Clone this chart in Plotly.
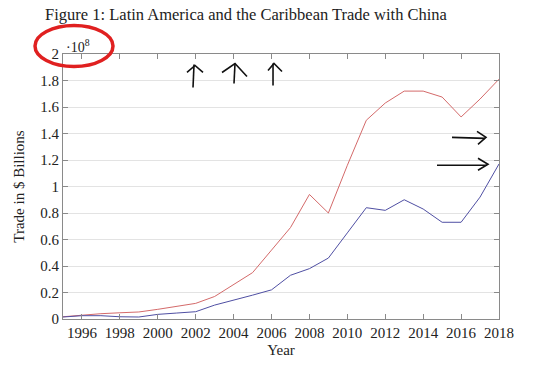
import plotly.graph_objects as go

# Data (values in units of 10^8)
years = list(range(1995, 2019))
red_series = [0.017, 0.03, 0.04, 0.047, 0.053, 0.073, 0.093, 0.118, 0.17, 0.26, 0.35, 0.52,
              0.69, 0.94, 0.80, 1.16, 1.50, 1.63, 1.72, 1.72, 1.675, 1.525, 1.66, 1.81]
blue_series = [0.015, 0.025, 0.025, 0.017, 0.015, 0.035, 0.045, 0.055, 0.105, 0.14, 0.18, 0.22,
               0.33, 0.38, 0.46, 0.65, 0.84, 0.82, 0.90, 0.83, 0.73, 0.73, 0.92, 1.17]
y_tickvals = [0, 0.2, 0.4, 0.6, 0.8, 1, 1.2, 1.4, 1.6, 1.8, 2]
y_ticktext = ["0", "0.2", "0.4", "0.6", "0.8", "1", "1.2", "1.4", "1.6", "1.8", "2"]
x_tickvals = list(range(1996, 2019, 2))
x_ticktext = [str(v) for v in x_tickvals]

W, H = 540, 368
L, R, T, B = 63, 499, 53.5, 319
FONT = "Liberation Serif"

fig = go.Figure()
fig.add_trace(go.Scatter(x=years, y=red_series, mode="lines",
                         line=dict(color="#d46a6a", width=1), showlegend=False))
fig.add_trace(go.Scatter(x=years, y=blue_series, mode="lines",
                         line=dict(color="#4f4fa3", width=1), showlegend=False))


def px(x, y):
    return ((x - L) / (R - L), (B - y) / (B - T))


def path(points):
    s = ""
    for i, (x, y) in enumerate(points):
        a, b = px(x, y)
        s += ("M" if i == 0 else "L") + f"{a:.4f},{b:.4f} "
    return s.strip()


shapes = []
# hand-drawn annotations
ink = dict(color="#111111", width=1.6)
for stem, head in [
    ([(193, 87), (194, 64)], [(187, 72), (195, 65), (203, 72)]),
    ([(234, 83), (235, 63)], [(222, 72), (235, 63), (247, 76)]),
    ([(273, 85), (273, 63)], [(268, 70), (274, 63), (282, 71)]),
    ([(452, 137), (485, 138)], [(477, 131), (486, 137), (478, 144)]),
    ([(437, 165), (487, 165)], [(478, 158), (488, 164), (478, 170)]),
]:
    shapes.append(dict(type="path", xref="paper", yref="paper", path=path(stem), line=ink))
    shapes.append(dict(type="path", xref="paper", yref="paper", path=path(head), line=ink))

x0, y0 = px(35, 66)
x1, y1 = px(113, 25)
shapes.append(dict(type="circle", xref="paper", yref="paper", x0=x0, y0=y0, x1=x1, y1=y1,
                   line=dict(color="#e02020", width=3.5)))

ax_common = dict(showline=True, linecolor="#8a8a8a", linewidth=1, mirror="ticks",
                 ticks="inside", ticklen=5, tickcolor="#8a8a8a", zeroline=False,
                 automargin=False,
                 tickfont=dict(family=FONT, size=15, color="#222222"))

fig.update_layout(
    width=W, height=H,
    margin=dict(l=L, r=W - R, t=T, b=H - B, autoexpand=False),
    paper_bgcolor="white", plot_bgcolor="white",
    font=dict(family=FONT, color="#222222"),
    title=dict(text="Figure 1: Latin America and the Caribbean Trade with China",
               x=246 / W, xanchor="center", y=1 - 14 / H, yanchor="middle",
               font=dict(family=FONT, size=16.5, color="#222222")),
    xaxis=dict(range=[1995, 2018], tickvals=x_tickvals, ticktext=x_ticktext,
               showgrid=False,
               title=dict(text="Year", font=dict(family=FONT, size=15), standoff=4),
               **ax_common),
    yaxis=dict(range=[0, 2], tickvals=y_tickvals, ticktext=y_ticktext,
               showgrid=True, gridcolor="#e3e3e3", gridwidth=1.2,
               title=dict(text="Trade in $ Billions", font=dict(family=FONT, size=15), standoff=12),
               **ax_common),
    shapes=shapes,
    annotations=[dict(text="·10<sup>8</sup>", xref="paper", yref="paper",
                      x=px(64, 45)[0], y=px(64, 45)[1], xanchor="left", yanchor="middle",
                      showarrow=False, font=dict(family=FONT, size=14, color="#222222"))],
)

fig.write_html("out.html", config={"displayModeBar": False},
               post_script="document.body.style.margin='0';document.body.style.overflow='hidden';")
